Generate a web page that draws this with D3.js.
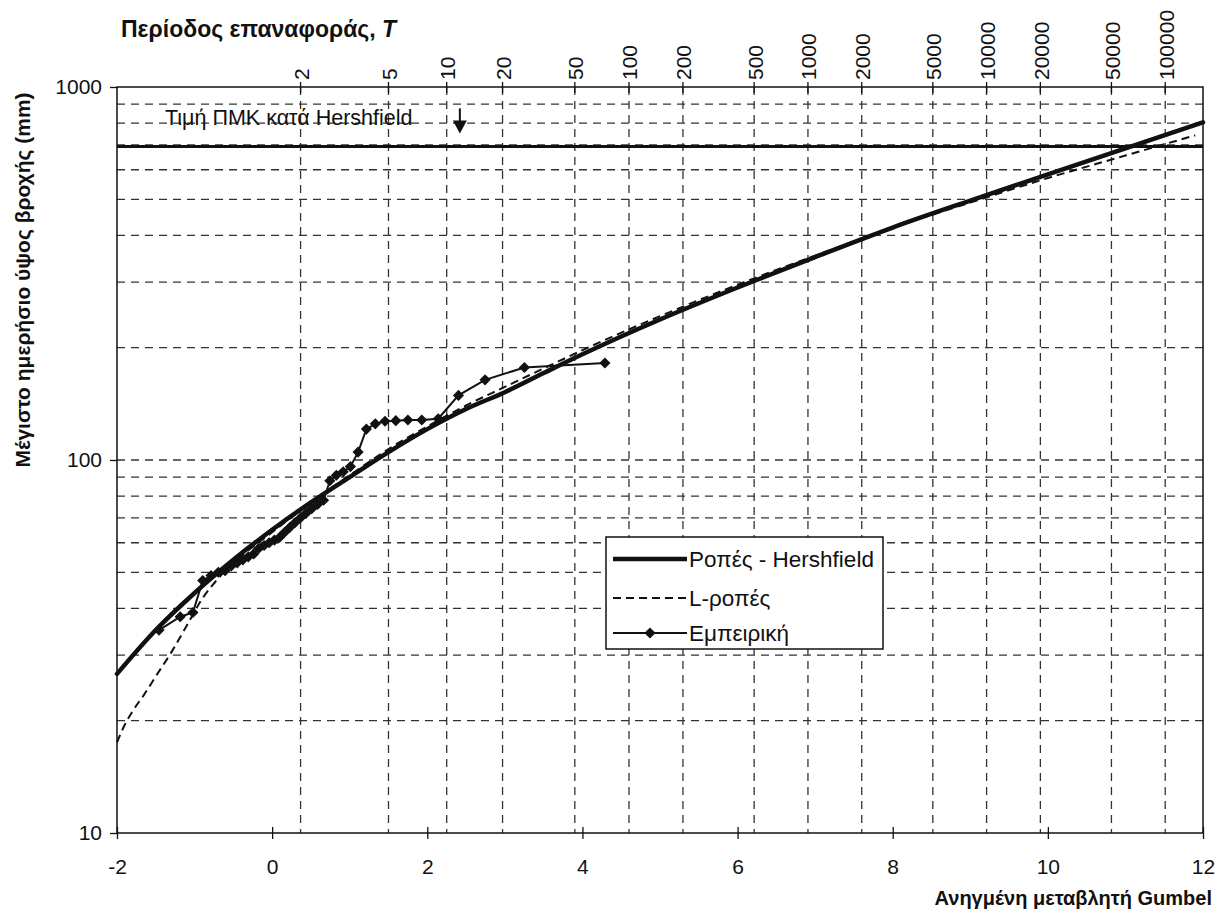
<!DOCTYPE html>
<html>
<head>
<meta charset="utf-8">
<script src="https://cdn.jsdelivr.net/npm/d3@7"></script>
<style>
  html, body { margin: 0; padding: 0; background: #fff; }
  svg { display: block; font-family: "Liberation Sans", Arial, sans-serif; }
</style>
</head>
<body>
<svg id="chart" width="1222" height="921"></svg>
<script>
// Gumbel reduced variate (x) against maximum daily rainfall depth in mm (log y)

// Ροπές - Hershfield fitted curve
const hershU = [-2, -1.5, -1, -0.5, 0, 0.5, 1, 1.5, 2, 2.5, 3, 3.5, 4, 5, 6, 7, 8, 9, 10, 11, 12];
const hershV = [26.7, 35, 44, 54, 65, 77, 90, 105, 121, 137, 152, 171, 192, 238, 290, 350, 420, 496, 583, 685, 804];

// L-ροπές fitted curve
const lmomU = [-2, -1.9, -1.8, -1.65, -1.5, -1.3, -1.1, -0.9, -0.7, -0.5, -0.25, 0, 0.5, 1, 1.5, 2, 2.5, 3, 3.5, 4, 5, 6, 7, 8, 9, 10, 11, 11.9];
const lmomV = [17.5, 19.5, 21.2, 23.5, 26.3, 30.5, 36, 42.5, 48, 53, 58.5, 64, 77, 91, 107, 123, 140, 157, 176, 197, 243, 295, 353, 420, 490, 570, 655, 742];

// Εμπειρική: plotting positions and ranked annual maxima
const empU = [-1.458, -1.185, -1.021, -0.895, -0.788, -0.694, -0.607, -0.527, -0.451, -0.378,
              -0.307, -0.238, -0.171, -0.104, -0.038, 0.029, 0.095, 0.162, 0.229, 0.297,
              0.367, 0.438, 0.510, 0.585, 0.663, 0.744, 0.828, 0.916, 1.009, 1.108,
              1.215, 1.330, 1.455, 1.594, 1.750, 1.929, 2.141, 2.402, 2.745, 3.252, 4.290];
const empV = [35, 38, 39, 47.5, 49, 50, 50.5, 52, 53, 54,
              55, 56, 58, 59, 60, 61, 62, 64, 66, 68,
              70, 72, 74, 76, 78, 88, 91, 93, 96, 105,
              121, 125, 127, 127.5, 128, 128, 129, 149, 164, 177, 182];

// Probable maximum precipitation (ΠΜΚ) by Hershfield
const pmpValue = 693;

// Axis ticks
const gumbelTicks = [-2, 0, 2, 4, 6, 8, 10, 12];
const depthTicks = [10, 100, 1000];
const gridDepths = [20, 30, 40, 50, 60, 70, 80, 90, 100, 200, 300, 400, 500, 600, 700, 800, 900];
const returnPeriods = [2, 5, 10, 20, 50, 100, 200, 500, 1000, 2000, 5000, 10000, 20000, 50000, 100000];

const svg = d3.select("#chart");
const plotL = 117, plotR = 1203, plotT = 87, plotB = 833;

const x = d3.scaleLinear().domain([-2, 12]).range([plotL, plotR]);
const y = d3.scaleLog().domain([10, 1000]).range([plotB, plotT]);
// return period T -> Gumbel reduced variate
const gumbelOfT = T => -Math.log(-Math.log(1 - 1 / T));

const ink = "#111";

// grid
const grid = svg.append("g").attr("stroke", "#333").attr("stroke-width", 1.3)
  .attr("stroke-dasharray", "8,6").attr("fill", "none");
grid.selectAll("line.h").data(gridDepths).join("line").attr("class", "h")
  .attr("x1", plotL).attr("x2", plotR).attr("y1", d => y(d)).attr("y2", d => y(d));
grid.selectAll("line.v").data(returnPeriods).join("line").attr("class", "v")
  .attr("x1", d => x(gumbelOfT(d))).attr("x2", d => x(gumbelOfT(d)))
  .attr("y1", plotT).attr("y2", plotB);

// frame
svg.append("rect").attr("x", plotL).attr("y", plotT).attr("width", plotR - plotL).attr("height", plotB - plotT)
  .attr("fill", "none").attr("stroke", ink).attr("stroke-width", 1.5);

// bottom axis
const xAxis = svg.append("g").attr("transform", `translate(0,${plotB})`)
  .call(d3.axisBottom(x).tickValues(gumbelTicks).tickSize(6).tickPadding(20).tickFormat(d3.format("d")));
xAxis.select(".domain").remove();
xAxis.selectAll(".tick line").attr("y1", -6).attr("y2", 6).attr("stroke", ink).attr("stroke-width", 1.3);
xAxis.selectAll(".tick text").attr("font-size", 21).attr("fill", ink)
  .attr("font-family", "Liberation Sans, Arial, sans-serif").text(d => d < 0 ? "-" + Math.abs(d) : d);

// left axis
const yAxis = svg.append("g").attr("transform", `translate(${plotL},0)`)
  .call(d3.axisLeft(y).tickValues(depthTicks).tickSize(7).tickPadding(8).tickFormat(d3.format("d")));
yAxis.select(".domain").remove();
yAxis.selectAll(".tick line").attr("stroke", ink).attr("stroke-width", 1.3);
yAxis.selectAll(".tick text").attr("font-size", 21).attr("fill", ink)
  .attr("font-family", "Liberation Sans, Arial, sans-serif");

// top axis: return period
const tAxis = svg.append("g").attr("transform", `translate(0,${plotT})`);
tAxis.selectAll("line").data(returnPeriods).join("line")
  .attr("x1", d => x(gumbelOfT(d))).attr("x2", d => x(gumbelOfT(d)))
  .attr("y1", -5).attr("y2", 6).attr("stroke", ink).attr("stroke-width", 1.3);
tAxis.selectAll("text").data(returnPeriods).join("text")
  .attr("transform", d => `translate(${x(gumbelOfT(d)) + 1},-7) rotate(-90)`)
  .attr("dy", "0.35em").attr("text-anchor", "start")
  .attr("font-size", 21).attr("fill", ink).text(d => d);

// PMP line and label
svg.append("line").attr("x1", plotL).attr("x2", plotR).attr("y1", y(pmpValue)).attr("y2", y(pmpValue))
  .attr("stroke", ink).attr("stroke-width", 3);
svg.append("text").attr("x", 165).attr("y", 125).attr("font-size", 21.5).attr("fill", ink)
  .text("Τιμή ΠΜΚ κατά Hershfield");
const ax = x(2.42), tip = y(pmpValue) - 13;
svg.append("line").attr("x1", ax).attr("x2", ax).attr("y1", tip - 25).attr("y2", tip - 8)
  .attr("stroke", ink).attr("stroke-width", 2);
svg.append("path").attr("d", `M${ax - 7},${tip - 13}L${ax + 7},${tip - 13}L${ax},${tip}Z`).attr("fill", ink);

// curves
const line = d3.line().x(d => x(d[0])).y(d => y(d[1])).curve(d3.curveMonotoneX);
const plot = svg.append("g");
plot.append("path").datum(d3.zip(lmomU, lmomV)).attr("d", line)
  .attr("fill", "none").attr("stroke", ink).attr("stroke-width", 2).attr("stroke-dasharray", "8,5");
plot.append("path").datum(d3.zip(hershU, hershV)).attr("d", line)
  .attr("fill", "none").attr("stroke", ink).attr("stroke-width", 4.5).attr("stroke-linecap", "round");
const empLine = d3.line().x(d => x(d[0])).y(d => y(d[1]));
const emp = d3.zip(empU, empV);
plot.append("path").datum(emp).attr("d", empLine)
  .attr("fill", "none").attr("stroke", ink).attr("stroke-width", 2);
const diamond = d3.symbol(d3.symbolSquare, 62);
plot.selectAll("path.pt").data(emp).join("path").attr("class", "pt")
  .attr("d", diamond)
  .attr("transform", d => `translate(${x(d[0])},${y(d[1])}) rotate(45)`)
  .attr("fill", ink);

// legend
const lg = svg.append("g");
lg.append("rect").attr("x", 606).attr("y", 537).attr("width", 277).attr("height", 112)
  .attr("fill", "#fff").attr("stroke", ink).attr("stroke-width", 1.5);
const rows = [
  { label: "Ροπές - Hershfield", yy: 559, width: 4.5, dash: null, marker: false },
  { label: "L-ροπές", yy: 598, width: 2, dash: "8,5", marker: false },
  { label: "Εμπειρική", yy: 633, width: 2, dash: null, marker: true }
];
rows.forEach(r => {
  lg.append("line").attr("x1", 613).attr("x2", 687).attr("y1", r.yy).attr("y2", r.yy)
    .attr("stroke", ink).attr("stroke-width", r.width).attr("stroke-dasharray", r.dash);
  if (r.marker) lg.append("path").attr("d", diamond)
    .attr("transform", `translate(650,${r.yy}) rotate(45)`).attr("fill", ink);
  lg.append("text").attr("x", 689).attr("y", r.yy).attr("dy", "0.35em")
    .attr("font-size", 22.5).attr("fill", ink).text(r.label);
});

// titles
svg.append("text").attr("x", 121).attr("y", 37).attr("font-size", 23).attr("font-weight", "bold")
  .attr("fill", ink)
  .html('Περίοδος επαναφοράς, <tspan font-style="italic">T</tspan>');
svg.append("text").attr("transform", "translate(30,280) rotate(-90)").attr("text-anchor", "middle")
  .attr("font-size", 21).attr("font-weight", "bold").attr("fill", ink)
  .text("Μέγιστο ημερήσιο ύψος βροχής (mm)");
svg.append("text").attr("x", 1212).attr("y", 905).attr("text-anchor", "end")
  .attr("font-size", 20).attr("font-weight", "bold").attr("fill", ink)
  .text("Ανηγμένη μεταβλητή Gumbel");
</script>
</body>
</html>
